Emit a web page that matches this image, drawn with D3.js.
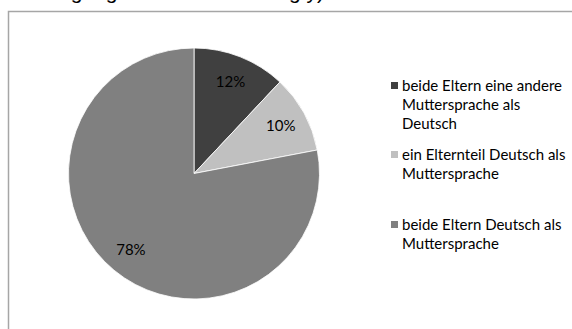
<!DOCTYPE html>
<html><head><meta charset="utf-8">
<script src="https://cdn.jsdelivr.net/npm/d3@7"></script>
<style>body{margin:0;background:#fff}svg{display:block}</style>
</head><body>
<svg id="c" width="572" height="329"></svg>
<script>
const categories = [
  "beide Eltern eine andere Muttersprache als Deutsch",
  "ein Elternteil Deutsch als Muttersprache",
  "beide Eltern Deutsch als Muttersprache"
];
const values = [12, 10, 78];
const valueLabels = ["12%", "10%", "78%"];
const legendLines = [
  ["beide Eltern eine andere", "Muttersprache als", "Deutsch"],
  ["ein Elternteil Deutsch als", "Muttersprache"],
  ["beide Eltern Deutsch als", "Muttersprache"]
];
const colors = ["#404040", "#c0c0c0", "#808080"];

const svg = d3.select("#c");
// cut-off title line at the top (only descenders visible in the reference)
svg.append("text").attr("x", 38).attr("y", -1.5)
  .attr("font-family", "Liberation Sans, Arial, sans-serif").attr("font-size", 21)
  .attr("fill", "#000").text("Umgang Eltern Schulanfang y)");

// chart frame
svg.append("rect").attr("x", 8.5).attr("y", 11.5).attr("width", 600).attr("height", 400)
  .attr("fill", "none").attr("stroke", "#a6a6a6").attr("stroke-width", 1.5);

const cx = 194, cy = 173.5, r = 125.5;
const pie = d3.pie().sort(null).value(d => d);
const arcs = pie(values);
const arc = d3.arc().innerRadius(0).outerRadius(r);
const labelArc = d3.arc().innerRadius(99).outerRadius(99);
const g = svg.append("g").attr("transform", `translate(${cx},${cy})`);
g.selectAll("path").data(arcs).join("path")
  .attr("d", arc).attr("fill", (d, i) => colors[i])
  .attr("stroke", "#fff").attr("stroke-width", 0.8);
g.selectAll("text").data(arcs).join("text")
  .attr("transform", d => `translate(${labelArc.centroid(d)})`)
  .attr("text-anchor", "middle").attr("dy", "0.35em")
  .attr("font-family", "Lato, sans-serif").attr("font-size", 15)
  .attr("fill", "#000").text((d, i) => valueLabels[i]);

const legendY = [86, 155, 225];
const lg = svg.append("g");
legendLines.forEach((lines, i) => {
  lg.append("rect").attr("x", 391).attr("y", legendY[i] - 4).attr("width", 7).attr("height", 7)
    .attr("fill", colors[i]);
  lines.forEach((t, j) => {
    lg.append("text").attr("x", 402).attr("y", legendY[i] + j * 18.7).attr("dy", "0.35em")
      .attr("font-family", "Lato, sans-serif").attr("font-size", 15)
      .attr("fill", "#000").text(t);
  });
});
</script>
</body></html>
